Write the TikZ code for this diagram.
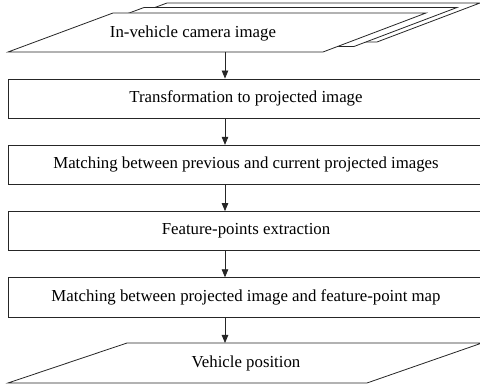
\documentclass[tikz,border=0pt]{standalone}
\usepackage{fontspec}
\setmainfont{Liberation Serif}
\usetikzlibrary{arrows.meta}
\begin{document}
\begin{tikzpicture}[x=1pt,y=-1pt,
  shp/.style={draw=black!85, line width=0.8pt, fill=white},
  lbl/.style={font=\fontsize{16.8}{19}\selectfont, inner sep=0pt},
  box/.style={shp, lbl, minimum width=476pt, minimum height=39.3pt, inner sep=0pt},
  flow/.style={-{Triangle[length=8pt,width=6.5pt]}, line width=0.8pt, draw=black!85}]
\useasboundingbox (0,0) rectangle (480,387);
% stacked input images
\draw[shp] (62,42) -- (377,42) -- (480,3) -- (167,3) -- cycle;
\draw[shp] (39,46.5) -- (354,46.5) -- (457,7.5) -- (144,7.5) -- cycle;
\draw[shp] (8,52) -- (323,52) -- (426,13) -- (113,13) -- cycle;
\node[lbl] (in) at (193,33) {In-vehicle camera image};
\coordinate (inb) at (225,52);
% process boxes
\node[box] (b1) at (246,98.6) {Transformation to projected image};
\node[box] (b2) at (246,164.9) {Matching between previous and current projected images};
\node[box] (b3) at (246,231.2) {Feature-points extraction};
\node[box] (b4) at (246,297.4) {Matching between projected image and feature-point map};
% output
\draw[shp] (8,383) -- (367,383) -- (482,343) -- (127,343) -- cycle;
\node[lbl] (out) at (246,363) {Vehicle position};
\coordinate (outt) at (225,343);
\coordinate (xa) at (225,0);
% connectors
\draw[flow] (inb) -- (b1.north -| xa);
\draw[flow] (b1.south -| xa) -- (b2.north -| xa);
\draw[flow] (b2.south -| xa) -- (b3.north -| xa);
\draw[flow] (b3.south -| xa) -- (b4.north -| xa);
\draw[flow] (b4.south -| xa) -- (outt);
\end{tikzpicture}
\end{document}
